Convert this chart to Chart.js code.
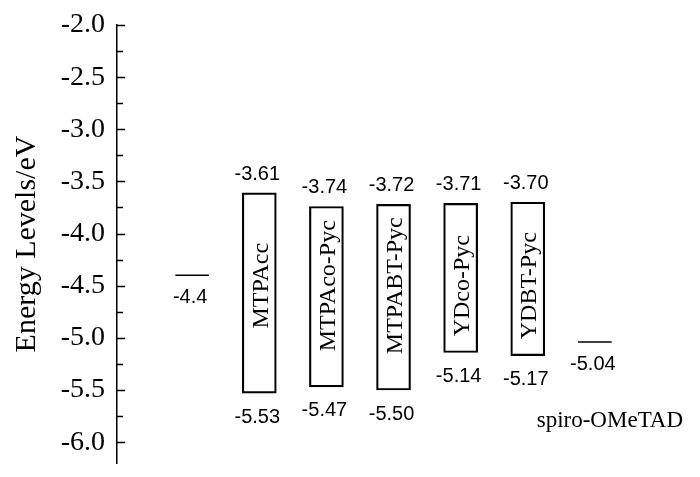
<!DOCTYPE html>
<html>
<head>
<meta charset="utf-8">
<script src="https://cdn.jsdelivr.net/npm/chart.js@4/dist/chart.umd.min.js"></script>
<style>
html,body{margin:0;padding:0;background:#fff;}
#wrap{width:700px;height:477px;}
</style>
</head>
<body>
<div id="wrap"><canvas id="c" width="700" height="477"></canvas></div>
<script>
// ---- data ----
const materials = ['MTPAcc', 'MTPAco-Pyc', 'MTPABT-Pyc', 'YDco-Pyc', 'YDBT-Pyc'];
const lumo = [-3.61, -3.74, -3.72, -3.71, -3.70];
const homo = [-5.53, -5.47, -5.50, -5.14, -5.17];
const boxSlots = [2, 3, 4, 5, 6];
const refNames = ['', 'spiro-OMeTAD'];
const refLevels = [-4.4, -5.04];
const refSlots = [1, 7];
const yTickValues = [-6.0, -5.5, -5.0, -4.5, -4.0, -3.5, -3.0, -2.5, -2.0];

const HALF = 0.25;       // half-width of a level mark, in slot units
const NAME_Y = -4.5;     // vertical anchor of rotated names

const boxData = materials.map((m, i) => ({ x: boxSlots[i], y: [homo[i], lumo[i]] }));
const refDatasets = refLevels.map((v, i) => ({
  type: 'line',
  data: [{ x: refSlots[i] - HALF, y: v }, { x: refSlots[i] + HALF, y: v }],
  borderColor: '#000', borderWidth: 1.5, pointRadius: 0, fill: false
}));

const labelsPlugin = {
  id: 'labels',
  afterDatasetsDraw(chart) {
    const { ctx, scales: { x, y }, chartArea } = chart;
    ctx.save();
    ctx.fillStyle = '#000';
    ctx.strokeStyle = '#000';
    // inward y ticks (major and minor)
    ctx.lineWidth = 1.5;
    for (let k = 0; k <= 16; k++) {
      const v = -6.0 + k * 0.25;
      const py = Math.round(y.getPixelForValue(v)) + 0.5;
      const len = (k % 2 === 0) ? 8 : 6;
      ctx.beginPath();
      ctx.moveTo(chartArea.left, py);
      ctx.lineTo(chartArea.left + len, py);
      ctx.stroke();
    }
    // box values and names
    materials.forEach((m, i) => {
      const xp = x.getPixelForValue(boxSlots[i]);
      const top = y.getPixelForValue(lumo[i]);
      const bot = y.getPixelForValue(homo[i]);
      ctx.font = '20px "Liberation Sans"';
      ctx.textAlign = 'center';
      ctx.textBaseline = 'alphabetic';
      ctx.fillText(lumo[i].toFixed(2), xp - 2, top - 13);
      ctx.textBaseline = 'top';
      ctx.fillText(homo[i].toFixed(2), xp - 2, bot + 14);
      ctx.save();
      ctx.translate(xp + 2, y.getPixelForValue(NAME_Y));
      ctx.rotate(-Math.PI / 2);
      ctx.font = '24px "Liberation Serif"';
      ctx.textAlign = 'center';
      ctx.textBaseline = 'middle';
      ctx.fillText(m, 0, 0);
      ctx.restore();
    });
    // reference level values and names
    refLevels.forEach((v, i) => {
      const xp = x.getPixelForValue(refSlots[i]);
      const py = y.getPixelForValue(v);
      ctx.font = '20px "Liberation Sans"';
      ctx.textAlign = 'center';
      ctx.textBaseline = 'top';
      ctx.fillText(String(v), xp - 2, py + 12);
      if (refNames[i]) {
        ctx.font = '23px "Liberation Serif"';
        ctx.textBaseline = 'alphabetic';
        ctx.fillText(refNames[i], xp + 15, py + 85);
      }
    });
    ctx.restore();
  }
};

new Chart(document.getElementById('c'), {
  type: 'bar',
  data: {
    datasets: [{
      data: boxData,
      backgroundColor: 'rgba(0,0,0,0)',
      borderColor: '#000',
      borderWidth: 1.5,
      borderSkipped: false,
      barThickness: 34
    }, ...refDatasets]
  },
  options: {
    responsive: false,
    animation: false,
    devicePixelRatio: 1,
    layout: { padding: { left: 0, right: 38, top: 25, bottom: 14 } },
    plugins: { legend: { display: false }, tooltip: { enabled: false } },
    scales: {
      x: { type: 'linear', min: -0.12, max: 8.0, display: false, offset: false, grid: { offset: false } },
      y: {
        min: -6.2, max: -2.0,
        afterFit(scale) { scale.width = 117; scale.paddingTop = 0; scale.paddingBottom = 0; },
        afterBuildTicks(scale) {
          scale.ticks = yTickValues.map(v => ({ value: v }));
        },
        ticks: {
          color: '#000',
          padding: 12,
          font: { family: '"Liberation Serif"', size: 28 },
          callback: v => Number(v).toFixed(1)
        },
        grid: { display: false, drawTicks: false },
        border: { display: true, color: '#000', width: 1.5 },
        title: {
          display: true,
          text: 'Energy Levels/eV',
          color: '#000',
          font: { family: '"Liberation Serif"', size: 30 },
          padding: { top: 9, bottom: 0 }
        }
      }
    }
  },
  plugins: [labelsPlugin]
});
</script>
</body>
</html>
